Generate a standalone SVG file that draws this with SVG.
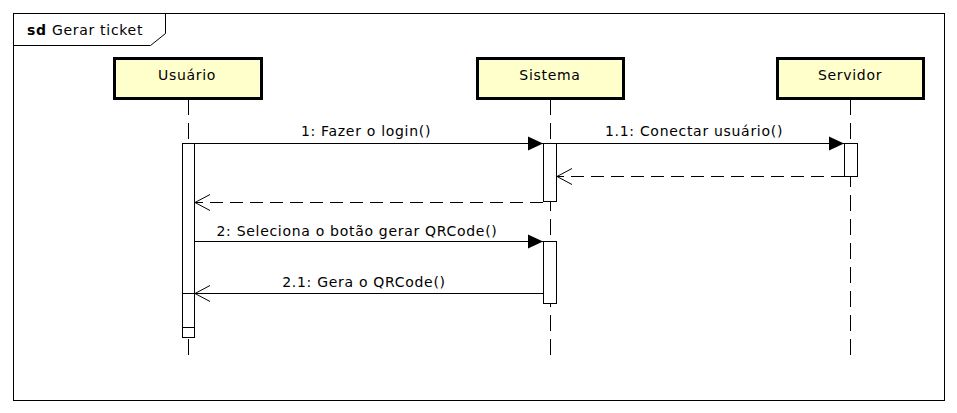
<svg xmlns="http://www.w3.org/2000/svg" width="957" height="413" viewBox="0 0 957 413">
<defs>
<marker id="filled" markerWidth="16" markerHeight="16" refX="15" refY="8" orient="auto" markerUnits="userSpaceOnUse">
<path d="M0,1 L15,8 L0,15 Z" fill="#000"/>
</marker>
<marker id="open" markerWidth="18" markerHeight="18" refX="16" refY="9" orient="auto" markerUnits="userSpaceOnUse">
<path d="M1,1 L16,9 L1,17" fill="none" stroke="#000" stroke-width="1"/>
</marker>
</defs>
<style>
text{font-family:"DejaVu Sans","Liberation Sans",sans-serif;font-size:14px;letter-spacing:0.7px;fill:#000}
.lbl{text-anchor:middle}
.box{fill:#ffffcc;stroke:#000;stroke-width:3}
.life{stroke:#000;stroke-width:1;stroke-dasharray:16 8;fill:none}
.act{fill:#fff;stroke:#000;stroke-width:1}
.msg{stroke:#000;stroke-width:1;fill:none}
.ret{stroke:#000;stroke-width:1;fill:none;stroke-dasharray:13 7}
</style>
<rect width="957" height="413" fill="#fff"/>
<g id="frame">
<rect x="13.5" y="13.5" width="931" height="387" fill="none" stroke="#000"/>
<path d="M13.5,45.5 H150.5 L165.5,33.5 V13.5" fill="none" stroke="#000"/>
<text x="27" y="35"><tspan font-weight="bold">sd</tspan> Gerar ticket</text>
</g>
<g id="lifelines">
<line class="life" x1="188.5" y1="99" x2="188.5" y2="355"/>
<line class="life" x1="550.5" y1="99" x2="550.5" y2="355"/>
<line class="life" x1="850.5" y1="99" x2="850.5" y2="355"/>
</g>
<g id="usuario">
<rect class="box" x="114.5" y="58.5" width="147" height="40"/>
<text class="lbl" x="187" y="80">Usuário</text>
<rect class="act" x="182.5" y="293.5" width="12" height="44"/>
<rect class="act" x="182.5" y="143.5" width="12" height="184"/>
<line x1="182.5" y1="293.5" x2="194.5" y2="293.5" stroke="#000"/>
</g>
<g id="sistema">
<rect class="box" x="477.5" y="58.5" width="146" height="40"/>
<text class="lbl" x="550" y="80">Sistema</text>
<rect class="act" x="543.5" y="143.5" width="13" height="58"/>
<rect class="act" x="543.5" y="241.5" width="13" height="62"/>
</g>
<g id="servidor">
<rect class="box" x="777.5" y="58.5" width="146" height="40"/>
<text class="lbl" x="850" y="80">Servidor</text>
<rect class="act" x="844.5" y="143.5" width="13" height="33"/>
</g>
<g id="connectors">
<line class="msg" x1="194.5" y1="143.5" x2="543" y2="143.5" marker-end="url(#filled)"/>
<text class="lbl" x="366" y="136">1: Fazer o login()</text>
<line class="msg" x1="556.5" y1="143.5" x2="844" y2="143.5" marker-end="url(#filled)"/>
<text class="lbl" x="694" y="136">1.1: Conectar usuário()</text>
<line class="ret" x1="844" y1="176.5" x2="557" y2="176.5" marker-end="url(#open)"/>
<line class="ret" x1="543" y1="202.5" x2="195" y2="202.5" marker-end="url(#open)"/>
<line class="msg" x1="194.5" y1="241.5" x2="543" y2="241.5" marker-end="url(#filled)"/>
<text class="lbl" x="357" y="236">2: Seleciona o botão gerar QRCode()</text>
<line class="msg" x1="543" y1="293.5" x2="195" y2="293.5" marker-end="url(#open)"/>
<text class="lbl" x="364" y="287">2.1: Gera o QRCode()</text>
</g>
</svg>
